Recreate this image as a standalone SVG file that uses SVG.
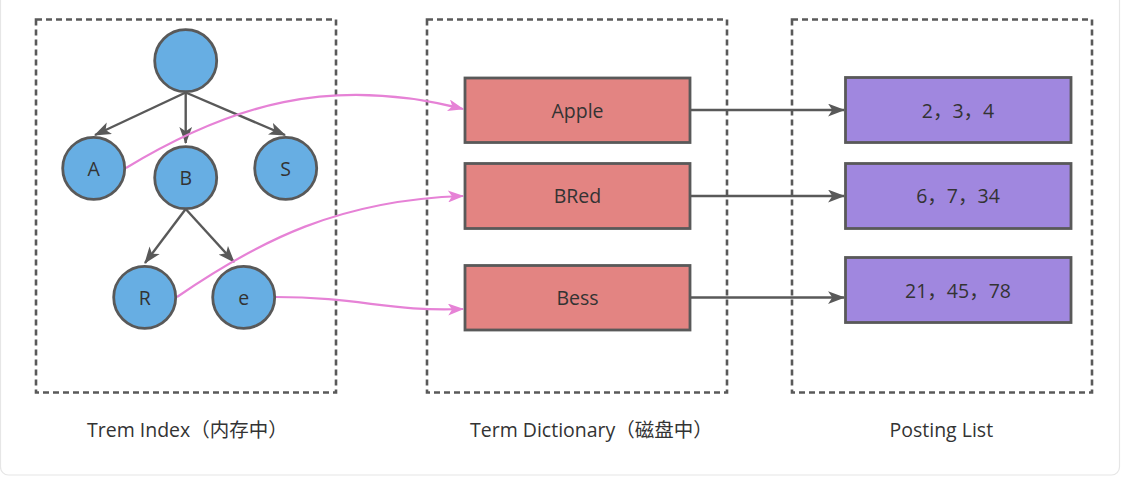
<svg xmlns="http://www.w3.org/2000/svg" width="1126" height="477" viewBox="0 0 1126 477">
<defs>
<style>
.frame{fill:none;stroke:#e6e6e6;stroke-width:1.2}
.group{fill:none;stroke:#595959;stroke-width:2.6;stroke-dasharray:6 4}
.circ{fill:#67aee3;stroke:#595959;stroke-width:2.8}
.term{fill:#e38482;stroke:#595959;stroke-width:2.8}
.post{fill:#a087df;stroke:#595959;stroke-width:2.8}
.t{font-family:"Open Sans","Noto Sans CJK SC",sans-serif;font-size:19.5px;fill:#333333}
.c{text-anchor:middle}
.edge{fill:none;stroke:#595959;stroke-width:2.4;marker-end:url(#ag)}
.link{fill:none;stroke:#e682d6;stroke-width:2.2;marker-end:url(#ap)}
</style>
<marker id="ag" viewBox="0 0 16 12" markerWidth="17" markerHeight="13" refX="15" refY="6" orient="auto" markerUnits="userSpaceOnUse">
<path d="M0,0 L16,6 L0,12 L4,6 Z" fill="#595959"/>
</marker>
<marker id="ap" viewBox="0 0 16 12" markerWidth="17" markerHeight="12" refX="15" refY="6" orient="auto" markerUnits="userSpaceOnUse">
<path d="M0,0 L16,6 L0,12 L4,6 Z" fill="#e682d6"/>
</marker>
</defs>
<rect width="1126" height="477" fill="#ffffff"/>
<rect class="frame" x="0.5" y="-10" width="1119" height="485" rx="8"/>

<g id="group-term-index">
<rect class="group" x="36" y="19.5" width="300" height="373"/>
<text class="t" x="87" y="437">Trem Index（内存中）</text>
</g>
<g id="group-term-dictionary">
<rect class="group" x="427" y="19.5" width="300" height="373"/>
<text class="t" x="470" y="437">Term Dictionary（磁盘中）</text>
</g>
<g id="group-posting-list">
<rect class="group" x="792" y="19.5" width="300" height="373"/>
<text class="t" x="889.5" y="437">Posting List</text>
</g>

<g id="connectors">
<path class="edge" d="M185.7,92.5 L95,135"/>
<path class="edge" d="M185.7,92.5 L185.7,143"/>
<path class="edge" d="M185.7,92.5 L285,135"/>
<path class="edge" d="M185.7,209 L145,263"/>
<path class="edge" d="M185.7,209 L234,262"/>
<path class="edge" d="M690,110 L844,110"/>
<path class="edge" d="M690,196 L844,196"/>
<path class="edge" d="M690,297.5 L844,297.5"/>
<path class="link" d="M126,168 C230,105 330,75 463,109"/>
<path class="link" d="M177,297 C260,240 340,200 463,196"/>
<path class="link" d="M275,297 C360,297 390,312 463,309"/>
</g>

<g id="node-root"><circle class="circ" cx="185.7" cy="60.7" r="31"/></g>
<g id="node-A"><circle class="circ" cx="93.7" cy="168.3" r="31"/><text class="t c" x="93.7" y="175.5">A</text></g>
<g id="node-B"><circle class="circ" cx="185.7" cy="177.7" r="31"/><text class="t c" x="185.7" y="185">B</text></g>
<g id="node-S"><circle class="circ" cx="285.7" cy="168.3" r="31"/><text class="t c" x="285.7" y="175.5">S</text></g>
<g id="node-R"><circle class="circ" cx="144.7" cy="297.3" r="31"/><text class="t c" x="144.7" y="304.5">R</text></g>
<g id="node-e"><circle class="circ" cx="243.7" cy="297.3" r="31"/><text class="t c" x="243.7" y="304.5">e</text></g>

<g id="node-apple"><rect class="term" x="465" y="78" width="225" height="64.5"/><text class="t c" x="577.5" y="117.5">Apple</text></g>
<g id="node-bred"><rect class="term" x="465" y="163.5" width="225" height="65"/><text class="t c" x="577.5" y="203">BRed</text></g>
<g id="node-bess"><rect class="term" x="465" y="265.5" width="225" height="64.5"/><text class="t c" x="577.5" y="305">Bess</text></g>

<g id="node-p1"><rect class="post" x="845.5" y="77.5" width="225.5" height="65"/><text class="t c" x="958" y="118">2，3，4</text></g>
<g id="node-p2"><rect class="post" x="845.5" y="163.5" width="225.5" height="65"/><text class="t c" x="958" y="203">6，7，34</text></g>
<g id="node-p3"><rect class="post" x="845.5" y="257.5" width="225.5" height="65"/><text class="t c" x="958" y="297.5">21，45，78</text></g>
</svg>
